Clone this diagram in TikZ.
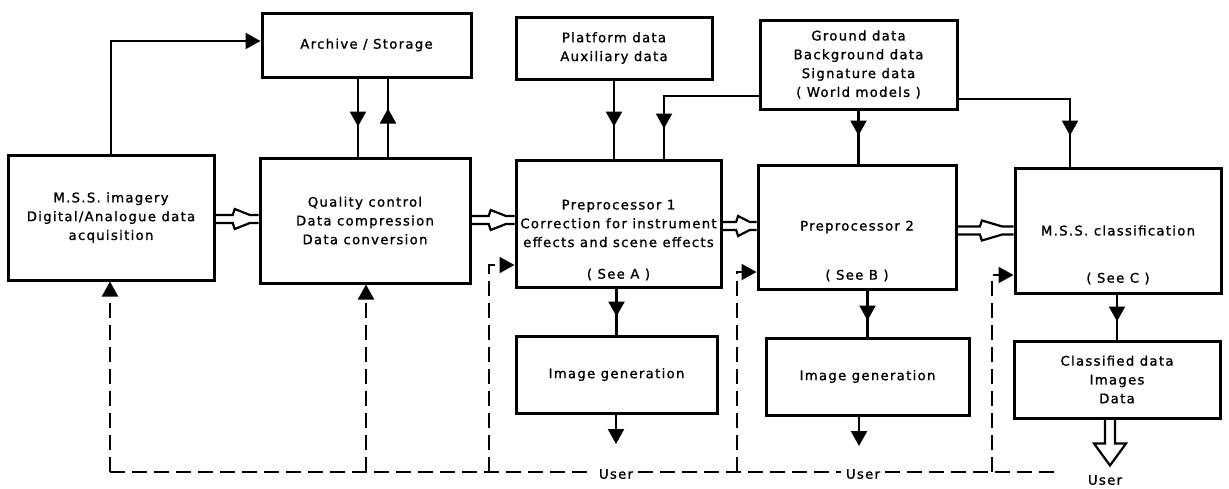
\documentclass[tikz,border=0pt]{standalone}
\usepackage{fontspec}
\setmainfont{DejaVu Sans}[LetterSpace=10, FakeBold=1.2]
\usetikzlibrary{arrows.meta,decorations.markings,calc}

\newcommand\labelfont{\fontsize{13.2}{18.8}\selectfont}

\tikzset{
  box/.style={draw, line width=3pt, inner sep=0pt, align=center, font=\labelfont},
  txt/.style={inner sep=1pt, align=center, font=\labelfont},
  wire/.style={line width=2.2pt},
  tipend/.style={wire, -{Triangle[length=15pt,width=16pt]}},
  midtip/.style={wire, postaction={decorate},
    decoration={markings, mark=at position #1 with {\arrow{Triangle[length=15pt,width=16pt]}}}},
  fb/.style={line width=2pt, dash pattern=on 15pt off 7pt},
  fbtip/.style={fb, -{Triangle[length=15pt,width=16pt]}},
  flow/.style={line width=2.2pt, line join=miter},
}

% hollow "data flow" arrow from the east side of #2 to the west side of #3
\newcommand\flowarrow[3][0pt]{%
  \draw[flow] let \p1=(#2.east), \p2=(#3.west) in
    (\x1,{\y2+#1+4pt}) -- ({\x1+0.4*(\x2-\x1)},{\y2+#1+4pt})
      -- ({\x1+0.4*(\x2-\x1)+2pt},{\y2+#1+10pt})
      -- ({\x1+0.8*(\x2-\x1)},{\y2+#1+4pt}) -- (\x2,{\y2+#1+4pt})
    (\x1,{\y2+#1-4pt}) -- ({\x1+0.4*(\x2-\x1)},{\y2+#1-4pt})
      -- ({\x1+0.4*(\x2-\x1)+2pt},{\y2+#1-10pt})
      -- ({\x1+0.8*(\x2-\x1)},{\y2+#1-4pt}) -- (\x2,{\y2+#1-4pt});
}

\begin{document}
\begin{tikzpicture}[x=1pt, y=-1pt]
\fill[white] (0,0) rectangle (1229,488);
\useasboundingbox (0,0) rectangle (1229,488);

% ---- processing chain
\node[box, minimum width=206pt, minimum height=125pt] (mss) at (111,217.5)
  {M.S.S. imagery\\Digital/Analogue data\\acquisition};
\node[box, minimum width=209pt, minimum height=64pt] (arch) at (366.5,45)
  {Archive / Storage};
\node[box, minimum width=210pt, minimum height=125pt] (qc) at (365,220.5)
  {Quality control\\Data compression\\Data conversion};
\node[box, minimum width=196pt, minimum height=62pt] (plat) at (614,48)
  {Platform data\\Auxiliary data};
\node[box, minimum width=197pt, minimum height=89pt] (grnd) at (858.5,64.5)
  {Ground data\\Background data\\Signature data\\( World models )};
\node[box, minimum width=205pt, minimum height=127pt] (p1) at (618.5,223.5)
  {Preprocessor 1\\Correction for instrument\\effects and scene effects};
\node[txt] (seeA) at ([yshift=14pt]p1.south) {( See A )};
\node[box, minimum width=198pt, minimum height=124pt] (p2) at (857,227)
  {Preprocessor 2};
\node[txt] (seeB) at ([yshift=15pt]p2.south) {( See B )};
\node[box, minimum width=206pt, minimum height=125pt] (cls) at (1118,230.5)
  {M.S.S. classification};
\node[txt] (seeC) at ([yshift=16pt]cls.south) {( See C )};

% ---- outputs
\node[box, minimum width=201pt, minimum height=77pt] (ig1) at (616.5,374.5)
  {Image generation};
\node[box, minimum width=203pt, minimum height=77pt] (ig2) at (867.5,376.5)
  {Image generation};
\node[box, minimum width=206pt, minimum height=77pt] (cd) at (1117,379.5)
  {Classified data\\Images\\Data};

% ---- archive links
\draw[tipend] (mss.north) |- ([yshift=4pt]arch.west);
\coordinate (ad) at ([xshift=-8.5pt]arch.south);
\coordinate (au) at ([xshift=23pt]qc.north);
\draw[midtip=-30pt] (ad) -- (ad |- qc.north);
\draw[midtip=-30pt] (au) -- (au |- arch.south);

% ---- auxiliary inputs
\draw[midtip=-32pt] (plat.south) -- (plat.south |- p1.north);
\draw[midtip=-30pt] ([yshift=-31.5pt]grnd.west) -| ([xshift=45.5pt]p1.north);
\draw[midtip=-28pt] (grnd.south) -- (grnd.south |- p2.north);
\draw[midtip=-31pt] ([yshift=-34.5pt]grnd.east) -| ([xshift=-48pt]cls.north);

% ---- main data flow
\flowarrow[1.5pt]{mss}{qc}
\flowarrow[3.5pt]{qc}{p1}
\flowarrow[1pt]{p1}{p2}
\flowarrow{p2}{cls}

% ---- products
\draw[midtip=-18pt] (ig1.north |- p1.south) -- (ig1.north);
\draw[midtip=-16pt] (ig2.north |- p2.south) -- (ig2.north);
\draw[midtip=-18pt] (cd.north |- cls.south) -- (cd.north);
\coordinate (o1) at (616,444);
\coordinate (o2) at (859,446);
\draw[tipend] (ig1.south -| o1) -- (o1);
\draw[tipend] (ig2.south -| o2) -- (o2);
\coordinate (hl) at ([xshift=-12pt]cd.south);
\draw[flow] (hl) -- ++(0,24) -- ++(-11,0) -- ++(16,22) -- ++(16,-22)
  -- ++(-11,0) -- ++(0,-24);

% ---- user feedback
\coordinate (fbL) at (110,472);
\coordinate (j1) at (366,472);
\coordinate (j2) at (489,472);
\coordinate (j3) at (737,472);
\coordinate (j4) at (992,472);
\coordinate (fbR) at (1060,472);
\node[txt] (u1) at (616,474) {User};
\node[txt] (u2) at (863,474) {User};
\node[txt] (u3) at (1105,480) {User};
\draw[fb] (fbL) -- ([xshift=-4pt]u1.west |- fbL);
\draw[fb] ([xshift=4pt]u1.east |- fbL) -- ([xshift=-4pt]u2.west |- fbL);
\draw[fb] ([xshift=4pt]u2.east |- fbL) -- (fbR);
\draw[fbtip] (fbL) -- (fbL |- mss.south);
\draw[fbtip] (j1) -- (j1 |- qc.south);
\draw[fbtip] (j2) |- ([yshift=-41.5pt]p1.west);
\draw[fbtip] (j3) |- ([yshift=-45pt]p2.west);
\draw[fbtip] (j4) |- ([yshift=-44.5pt]cls.west);
\end{tikzpicture}
\end{document}
